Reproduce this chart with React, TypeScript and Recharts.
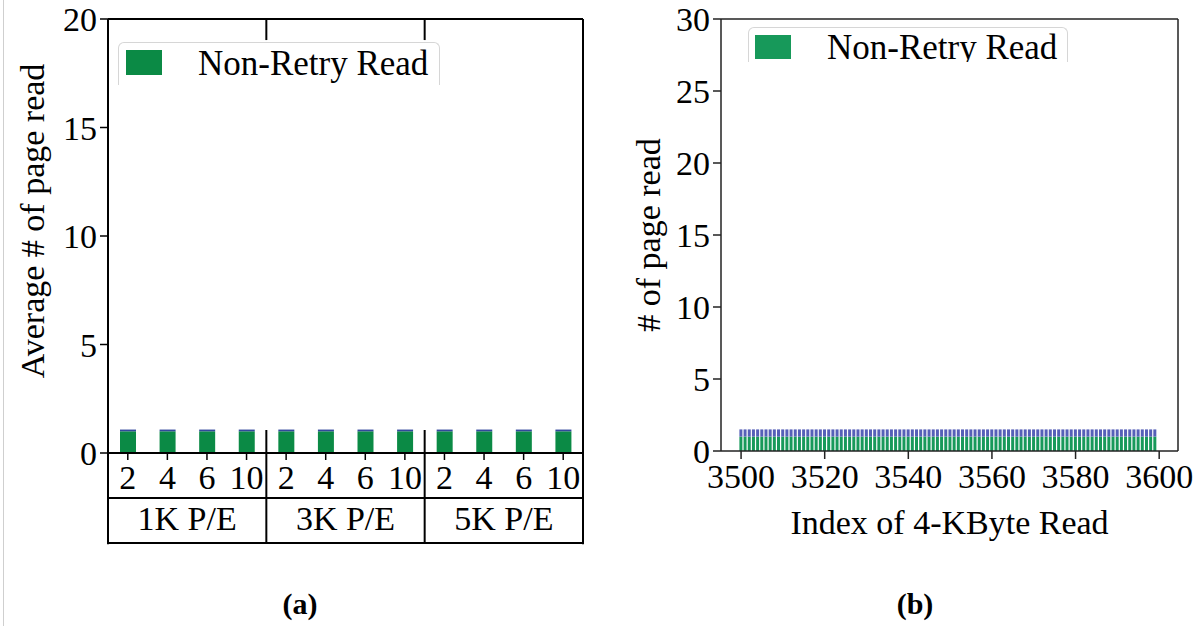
import { BarChart, Bar, XAxis, YAxis, ReferenceLine, Legend } from "recharts";

// panel (a): average page reads per read-retry config
const pecLabels = ["2", "4", "6", "10", "2", "4", "6", "10", "2", "4", "6", "10"];
const pecPositions = [1, 2, 3, 4, 5, 6, 7, 8, 9, 10, 11, 12];
const peGroups = ["1K P/E", "3K P/E", "5K P/E"];
const peGroupCenters = [2.5, 6.5, 10.5];
const nonRetryA = [1, 1, 1, 1, 1, 1, 1, 1, 1, 1, 1, 1];
const retryA = [0.08, 0.08, 0.08, 0.08, 0.08, 0.08, 0.08, 0.08, 0.08, 0.08, 0.08, 0.08];
const yTicksA = [0, 5, 10, 15, 20];

// panel (b): page reads per 4-KByte read
const readIndex = [
  3500, 3501, 3502, 3503, 3504, 3505, 3506, 3507, 3508, 3509,
  3510, 3511, 3512, 3513, 3514, 3515, 3516, 3517, 3518, 3519,
  3520, 3521, 3522, 3523, 3524, 3525, 3526, 3527, 3528, 3529,
  3530, 3531, 3532, 3533, 3534, 3535, 3536, 3537, 3538, 3539,
  3540, 3541, 3542, 3543, 3544, 3545, 3546, 3547, 3548, 3549,
  3550, 3551, 3552, 3553, 3554, 3555, 3556, 3557, 3558, 3559,
  3560, 3561, 3562, 3563, 3564, 3565, 3566, 3567, 3568, 3569,
  3570, 3571, 3572, 3573, 3574, 3575, 3576, 3577, 3578, 3579,
  3580, 3581, 3582, 3583, 3584, 3585, 3586, 3587, 3588, 3589,
  3590, 3591, 3592, 3593, 3594, 3595, 3596, 3597, 3598, 3599,
];
const nonRetryB = [
  1, 1, 1, 1, 1, 1, 1, 1, 1, 1, 1, 1, 1, 1, 1, 1, 1, 1, 1, 1,
  1, 1, 1, 1, 1, 1, 1, 1, 1, 1, 1, 1, 1, 1, 1, 1, 1, 1, 1, 1,
  1, 1, 1, 1, 1, 1, 1, 1, 1, 1, 1, 1, 1, 1, 1, 1, 1, 1, 1, 1,
  1, 1, 1, 1, 1, 1, 1, 1, 1, 1, 1, 1, 1, 1, 1, 1, 1, 1, 1, 1,
  1, 1, 1, 1, 1, 1, 1, 1, 1, 1, 1, 1, 1, 1, 1, 1, 1, 1, 1, 1,
];
const retryB = [
  0.5, 0.5, 0.5, 0.5, 0.5, 0.5, 0.5, 0.5, 0.5, 0.5, 0.5, 0.5, 0.5, 0.5, 0.5, 0.5, 0.5, 0.5, 0.5, 0.5,
  0.5, 0.5, 0.5, 0.5, 0.5, 0.5, 0.5, 0.5, 0.5, 0.5, 0.5, 0.5, 0.5, 0.5, 0.5, 0.5, 0.5, 0.5, 0.5, 0.5,
  0.5, 0.5, 0.5, 0.5, 0.5, 0.5, 0.5, 0.5, 0.5, 0.5, 0.5, 0.5, 0.5, 0.5, 0.5, 0.5, 0.5, 0.5, 0.5, 0.5,
  0.5, 0.5, 0.5, 0.5, 0.5, 0.5, 0.5, 0.5, 0.5, 0.5, 0.5, 0.5, 0.5, 0.5, 0.5, 0.5, 0.5, 0.5, 0.5, 0.5,
  0.5, 0.5, 0.5, 0.5, 0.5, 0.5, 0.5, 0.5, 0.5, 0.5, 0.5, 0.5, 0.5, 0.5, 0.5, 0.5, 0.5, 0.5, 0.5, 0.5,
];
const yTicksB = [0, 5, 10, 15, 20, 25, 30];
const xTicksB = [3500, 3520, 3540, 3560, 3580, 3600];

const FONT = "'Liberation Serif', 'Times New Roman', serif";
const GREEN = "#0b8a45";
const BLUE_A = "#33489c";
const GREEN_B = "#17995a";
const BLUE_B = "#5660b8";

const tickStyle = { fontSize: 34, fill: "#000", fontFamily: FONT };

const dataA = pecPositions.map((pos, i) => ({
  pos,
  nonRetry: nonRetryA[i],
  retry: retryA[i],
}));

const dataB = readIndex.map((idx, i) => ({
  idx,
  nonRetry: nonRetryB[i],
  retry: retryB[i],
}));

function legendBox(width: number, height: number, sq: { left: number; top: number; h: number }, textLeft: number, textTop: number) {
  return (props: any) => {
    const items = (props.payload || []).filter((p: any) => p.value === "Non-Retry Read");
    return (
      <div
        style={{
          position: "relative",
          width,
          height,
          overflow: "hidden",
          boxSizing: "border-box",
          border: "1.5px solid #d6d6d6",
          borderBottom: "none",
          borderRadius: "6px 6px 0 0",
          background: "#fff",
        }}
      >
        {items.map((p: any) => (
          <div key={p.value}>
            <div style={{ position: "absolute", left: sq.left, top: sq.top, width: 36, height: sq.h, background: p.color }} />
            <div
              style={{
                position: "absolute",
                left: textLeft,
                top: textTop,
                fontFamily: FONT,
                fontSize: 35,
                lineHeight: "35px",
                color: "#000",
                whiteSpace: "nowrap",
              }}
            >
              {p.value}
            </div>
          </div>
        ))}
      </div>
    );
  };
}

// table rows under panel (a) end this far below zero, in data units
const TABLE_BOTTOM = -4.15;

function PanelA() {
  const line = { stroke: "#000", strokeWidth: 2 };
  const frame = { stroke: "#000", strokeWidth: 2, ifOverflow: "visible" as const };
  return (
    <BarChart width={600} height={560} data={dataA} margin={{ top: 19, right: 17, left: 0, bottom: 17 }}>
      <XAxis
        dataKey="pos"
        type="number"
        domain={[0.5, 12.5]}
        ticks={pecPositions}
        interval={0}
        tickFormatter={(v: number) => pecLabels[pecPositions.indexOf(v)]}
        height={45}
        tickSize={7}
        tickMargin={5}
        axisLine={line}
        tickLine={{ stroke: "#000", strokeWidth: 1.5 }}
        tick={tickStyle}
      />
      <XAxis
        xAxisId="grp"
        dataKey="pos"
        type="number"
        domain={[0.5, 12.5]}
        allowDataOverflow
        ticks={peGroupCenters}
        interval={0}
        tickFormatter={(v: number) => peGroups[peGroupCenters.indexOf(v)]}
        height={45}
        tickSize={0}
        tickMargin={8}
        tickLine={false}
        axisLine={line}
        tick={tickStyle}
      />
      <YAxis
        domain={[0, 20]}
        ticks={yTicksA}
        interval={0}
        width={108}
        tickSize={8}
        tickMargin={3}
        axisLine={line}
        tickLine={{ stroke: "#000", strokeWidth: 1.5 }}
        tick={tickStyle}
        label={{
          value: "Average # of page read",
          angle: -90,
          position: "center",
          dx: -22,
          dy: -15,
          style: { fontSize: 34, fill: "#000", fontFamily: FONT },
        }}
      />
      <YAxis
        yAxisId="right"
        orientation="right"
        mirror
        domain={[0, 20]}
        ticks={yTicksA}
        interval={0}
        tick={false}
        tickSize={8}
        axisLine={line}
        tickLine={{ stroke: "#555", strokeWidth: 1 }}
      />
      <Legend
        layout="horizontal"
        verticalAlign="middle"
        align="center"
        wrapperStyle={{ left: 118, top: 42, width: 322, height: 43 }}
        content={legendBox(322, 43, { left: 7, top: 7, h: 25 }, 79, 3)}
      />
      <Bar dataKey="nonRetry" name="Non-Retry Read" stackId="s" fill={GREEN} barSize={16} isAnimationActive={false} />
      <Bar dataKey="retry" name="Retry Read" stackId="s" fill={BLUE_A} barSize={16} legendType="none" isAnimationActive={false} />
      <ReferenceLine y={20} stroke="#000" strokeWidth={2} />
      <ReferenceLine segment={[{ x: 4.5, y: 20 }, { x: 4.5, y: 19.03 }]} {...frame} />
      <ReferenceLine segment={[{ x: 8.5, y: 20 }, { x: 8.5, y: 19.03 }]} {...frame} />
      <ReferenceLine segment={[{ x: 4.5, y: 1.06 }, { x: 4.5, y: TABLE_BOTTOM }]} {...frame} />
      <ReferenceLine segment={[{ x: 8.5, y: 1.06 }, { x: 8.5, y: TABLE_BOTTOM }]} {...frame} />
      <ReferenceLine segment={[{ x: 0.5, y: 0 }, { x: 0.5, y: TABLE_BOTTOM - 0.05 }]} {...frame} />
      <ReferenceLine segment={[{ x: 12.5, y: 0 }, { x: 12.5, y: TABLE_BOTTOM - 0.05 }]} {...frame} />
      <ReferenceLine segment={[{ x: 0.5, y: TABLE_BOTTOM }, { x: 12.5, y: TABLE_BOTTOM }]} {...frame} />
    </BarChart>
  );
}

function PanelB() {
  const line = { stroke: "#222", strokeWidth: 1.5 };
  return (
    <BarChart width={596} height={560} data={dataB} margin={{ top: 19, right: 18, left: 0, bottom: 64 }}>
      <XAxis
        dataKey="idx"
        type="number"
        domain={[3495.2, 3604.5]}
        ticks={xTicksB}
        interval={0}
        height={45}
        tickSize={8}
        tickMargin={5}
        axisLine={line}
        tickLine={{ stroke: "#222", strokeWidth: 1.5 }}
        tick={tickStyle}
        label={{
          value: "Index of 4-KByte Read",
          position: "bottom",
          offset: 14,
          style: { fontSize: 34, fill: "#000", fontFamily: FONT },
        }}
      />
      <YAxis
        domain={[0, 30]}
        ticks={yTicksB}
        interval={0}
        width={121}
        tickSize={8}
        tickMargin={3}
        axisLine={line}
        tickLine={{ stroke: "#222", strokeWidth: 1.5 }}
        tick={tickStyle}
        label={{
          value: "# of page read",
          angle: -90,
          position: "center",
          dx: -12.5,
          style: { fontSize: 34, fill: "#000", fontFamily: FONT },
        }}
      />
      <YAxis
        yAxisId="right"
        orientation="right"
        mirror
        domain={[0, 30]}
        ticks={yTicksB}
        interval={0}
        tick={false}
        tickSize={8}
        axisLine={line}
        tickLine={{ stroke: "#777", strokeWidth: 1 }}
      />
      <Legend
        layout="horizontal"
        verticalAlign="middle"
        align="center"
        wrapperStyle={{ left: 148, top: 27, width: 320, height: 35 }}
        content={legendBox(320, 35, { left: 6, top: 7, h: 24 }, 78, 2)}
      />
      <Bar dataKey="nonRetry" name="Non-Retry Read" stackId="s" fill={GREEN_B} isAnimationActive={false} />
      <Bar dataKey="retry" name="Retry Read" stackId="s" fill={BLUE_B} legendType="none" isAnimationActive={false} />
      <ReferenceLine y={30} stroke="#222" strokeWidth={1.5} />
    </BarChart>
  );
}

export default function App() {
  const caption = {
    position: "absolute" as const,
    top: 586,
    width: 100,
    height: 36,
    lineHeight: "36px",
    textAlign: "center" as const,
    fontFamily: FONT,
    fontWeight: 700,
    fontSize: 30,
    color: "#000",
  };
  return (
    <div style={{ position: "absolute", left: 0, top: 0, width: 1196, height: 626, background: "#fff", overflow: "hidden" }}>
      <div style={{ position: "absolute", left: 3, top: 0, width: 1, height: 626, background: "#cfcfcf" }} />
      <div style={{ position: "absolute", left: 0, top: 0 }}>
        <PanelA />
      </div>
      <div style={{ position: "absolute", left: 600, top: 0 }}>
        <PanelB />
      </div>
      <div style={{ ...caption, left: 250 }}>(a)</div>
      <div style={{ ...caption, left: 865 }}>(b)</div>
    </div>
  );
}
